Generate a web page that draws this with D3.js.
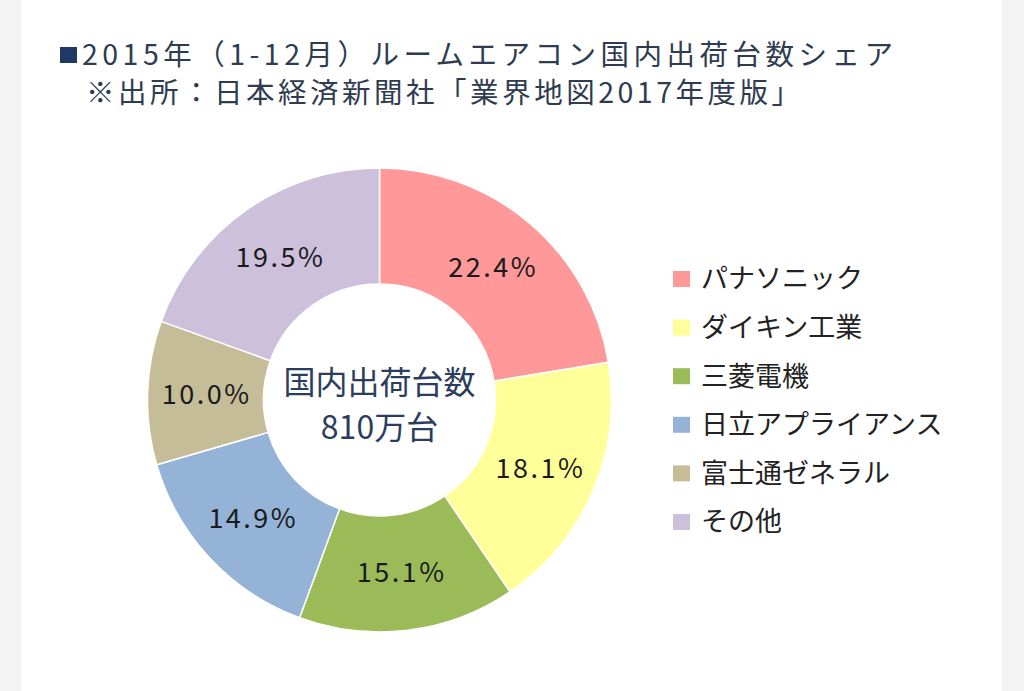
<!DOCTYPE html>
<html><head><meta charset="utf-8">
<script src="https://cdn.jsdelivr.net/npm/d3@7"></script>
<style>body{margin:0;background:#fff}svg{display:block}</style>
</head><body>
<svg id="c" width="1024" height="691"></svg>
<script>
const categories = ["パナソニック","ダイキン工業","三菱電機","日立アプライアンス","富士通ゼネラル","その他"];
const shares = [22.4,18.1,15.1,14.9,10.0,19.5];
const colors = ["#FF9999","#FFFF99","#9BBB59","#95B3D7","#C4BD97","#CCC0DA"];
const titleLines = ["2015年（1-12月）ルームエアコン国内出荷台数シェア","※出所：日本経済新聞社「業界地図2017年度版」"];
const centerLines = ["国内出荷台数","810万台"];

const svg = d3.select("#c");
const font = "'Noto Sans CJK JP','Noto Sans',sans-serif";
svg.append("rect").attr("width",1024).attr("height",691).attr("fill","#fff");
svg.append("rect").attr("x",0).attr("y",0).attr("width",21).attr("height",691).attr("fill","#f3f3f3");
svg.append("rect").attr("x",1002).attr("y",0).attr("width",22).attr("height",691).attr("fill","#f3f3f3");

// title
svg.append("rect").attr("x",60).attr("y",47).attr("width",17).attr("height",16).attr("fill","#1F3864");
svg.append("text").attr("x",82).attr("y",65).attr("font-family",font).attr("font-size",28.5)
  .attr("fill","#2f3b4f").attr("textLength",811).attr("lengthAdjust","spacing").text(titleLines[0]);
svg.append("text").attr("x",86).attr("y",103).attr("font-family",font).attr("font-size",28.5)
  .attr("fill","#2f3b4f").attr("textLength",714).attr("lengthAdjust","spacing").text(titleLines[1]);

// donut
const cx = 379.5, cy = 400, R = 232, r = 116;
const g = svg.append("g").attr("transform",`translate(${cx},${cy})`);
const pie = d3.pie().sort(null).value(d=>d)(shares);
const arc = d3.arc().innerRadius(r).outerRadius(R);
g.selectAll("path").data(pie).join("path")
  .attr("d",arc).attr("fill",(d,i)=>colors[i]).attr("stroke","#fff").attr("stroke-width",1.5);
g.selectAll("text.lab").data(pie).join("text").attr("class","lab")
  .attr("transform",d=>{const c=arc.centroid(d);return `translate(${c[0]+1},${c[1]})`;})
  .attr("text-anchor","middle").attr("dy","0.35em")
  .attr("font-family",font).attr("font-size",27).attr("fill","#1a1a1a").attr("letter-spacing",2.5)
  .text(d=>d3.format(".1f")(d.data)+"%");

g.selectAll("text.ctr").data(centerLines).join("text").attr("class","ctr")
  .attr("x",0).attr("y",(d,i)=>i===0?-17:28).attr("dy","0.35em").attr("text-anchor","middle")
  .attr("font-family",font).attr("font-size",32).attr("fill","#2b3d5c").text(d=>d);

// legend
const ly = d3.scalePoint().domain(categories).range([279,522]);
const lg = svg.append("g");
lg.selectAll("rect").data(categories).join("rect")
  .attr("x",673).attr("y",d=>ly(d)-8).attr("width",17).attr("height",16)
  .attr("fill",(d,i)=>colors[i]);
lg.selectAll("text").data(categories).join("text")
  .attr("x",701).attr("y",d=>ly(d)).attr("dy","0.35em")
  .attr("font-family",font).attr("font-size",27).attr("fill","#222").text(d=>d);
</script>
</body></html>
